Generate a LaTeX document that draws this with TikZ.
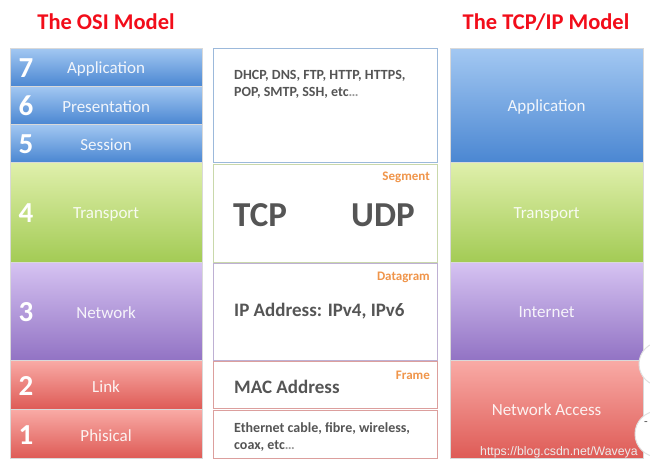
\documentclass[tikz,border=0pt]{standalone}
\usepackage{fontspec}
\setmainfont{Carlito}
\newfontfamily\wmfont{Liberation Sans}
\definecolor{bluetop}{HTML}{A3C8F2}
\definecolor{bluebot}{HTML}{4B87D2}
\definecolor{greentop}{HTML}{E0F0AC}
\definecolor{greenbot}{HTML}{A3CB55}
\definecolor{purptop}{HTML}{D6C3F2}
\definecolor{purpbot}{HTML}{9273C4}
\definecolor{redtop}{HTML}{F9ABA6}
\definecolor{redbot}{HTML}{DE5B56}
\definecolor{titlered}{HTML}{F20D1A}
\definecolor{txtgray}{HTML}{555555}
\definecolor{segorange}{HTML}{F0954A}
\tikzset{
  layer/.style={anchor=north west, inner sep=0pt, minimum width=192pt, minimum height=#1, draw=white!70!gray, line width=0.2pt},
  bluel/.style={top color=bluetop, bottom color=bluebot},
  greenl/.style={top color=greentop, bottom color=greenbot},
  purpl/.style={top color=purptop, bottom color=purpbot},
  redl/.style={top color=redtop, bottom color=redbot},
  num/.style={font=\bfseries\fontsize{29}{29}\selectfont, text=white},
  lname/.style={font=\fontsize{17}{17}\selectfont, text=white!92!#1},
  mid/.style={anchor=north west, inner sep=0pt, minimum width=224pt, minimum height=#1, fill=white, line width=1pt},
  midtxt/.style={font=\bfseries\fontsize{14}{17.5}\selectfont, text=txtgray, align=left, anchor=north west, inner sep=0pt},
  bigtxt/.style={font=\bfseries\fontsize{19}{19}\selectfont, text=txtgray, anchor=west, inner sep=0pt},
  huge/.style={font=\bfseries\fontsize{35}{35}\selectfont, text=txtgray, anchor=west, inner sep=0pt},
  pdu/.style={font=\bfseries\fontsize{13}{13}\selectfont, text=segorange, anchor=east, inner sep=0pt},
  title/.style={font=\bfseries\fontsize{22.5}{22.5}\selectfont, text=titlered},
}
\begin{document}
\begin{tikzpicture}[x=1pt,y=-1pt]
\useasboundingbox (0,0) rectangle (650,465);
\fill[white] (0,0) rectangle (650,465);
% titles
\node[title] (t1) at (106,22) {The OSI Model};
\node[title] (t2) at (546,22) {The TCP/IP Model};
% OSI column
\node[layer=38pt, bluel] (o7) at (10,48) {};
\node[layer=38pt, bluel] (o6) at (10,86) {};
\node[layer=38pt, bluel] (o5) at (10,124) {};
\node[layer=100pt, greenl] (o4) at (10,162) {};
\node[layer=98pt, purpl] (o3) at (10,262) {};
\node[layer=49pt, redl] (o2) at (10,360) {};
\node[layer=49pt, redl] (o1) at (10,409) {};
\foreach \n/\lab/\c in {7/Application/bluebot,6/Presentation/bluebot,5/Session/bluebot,4/Transport/greenbot,3/Network/purpbot,2/Link/redbot,1/Phisical/redbot}{
  \node[num] (n\n) at ([xshift=16pt,yshift=-1pt]o\n.west) {\n};
  \node[lname=\c] (l\n) at ([yshift=-2pt]o\n.center) {\lab};
}
% middle column
\node[mid=114pt, draw=bluetop!80!gray] (m1) at (213,48) {};
\node[mid=98pt, draw=greenbot!45!white!85!gray] (m2) at (213,164) {};
\node[mid=97pt, draw=purpbot!50!white!85!gray] (m3) at (213,263) {};
\node[mid=47pt, draw=redbot!55!white!85!gray] (m4) at (213,361) {};
\node[mid=48pt, draw=redbot!55!white!85!gray] (m5) at (213,410) {};
\node[midtxt] (a1) at (234,70) {DHCP, DNS, FTP, HTTP, HTTPS,\\POP, SMTP, SSH, etc\textcolor{txtgray!60}{\ldots}};
\node[pdu] (p2) at (430,177) {Segment};
\node[huge] (tcp) at (233,215) {TCP};
\node[huge] (udp) at (351,215) {UDP};
\node[pdu] (p3) at (430,277) {Datagram};
\node[bigtxt] (ip) at (234,311) {IP Address: IPv4, IPv6};
\node[pdu] (p4) at (430,375) {Frame};
\node[bigtxt] (mac) at (234,387) {MAC Address};
\node[midtxt] (a5) at (234,422) {Ethernet cable, fibre, wireless,\\coax, etc\textcolor{txtgray!60}{\ldots}};
% TCP/IP column
\node[layer=114pt, bluel, minimum width=193pt] (r4) at (450,48) {};
\node[layer=100pt, greenl, minimum width=193pt] (r3) at (450,162) {};
\node[layer=98pt, purpl, minimum width=193pt] (r2) at (450,262) {};
\node[layer=98pt, redl, minimum width=193pt] (r1) at (450,360) {};
\node[lname=bluebot] (rl4) at ([yshift=-2pt]r4.center) {Application};
\node[lname=greenbot] (rl3) at ([yshift=-2pt]r3.center) {Transport};
\node[lname=purpbot] (rl2) at ([yshift=-1pt]r2.center) {Internet};
\node[lname=redbot] (rl1) at ([yshift=-1pt]r1.center) {Network Access};
% partial UI circles at the right edge
\node[circle, minimum size=44pt, fill=white, draw=black!12, line width=1pt] (c1) at (661,364) {};
\node[circle, minimum size=46pt, fill=white, draw=black!12, line width=1pt] (c2) at (658,434) {};
\node[font=\fontsize{12}{12}\selectfont, text=black!70, inner sep=0pt] (c2m) at (646,424) {-};
% watermark
\node[font=\wmfont\fontsize{12.3}{12.3}\selectfont, text=white!85!gray, anchor=west, inner sep=0pt] (wm) at (480,452) {https://blog.csdn.net/Waveya};
\end{tikzpicture}
\end{document}
